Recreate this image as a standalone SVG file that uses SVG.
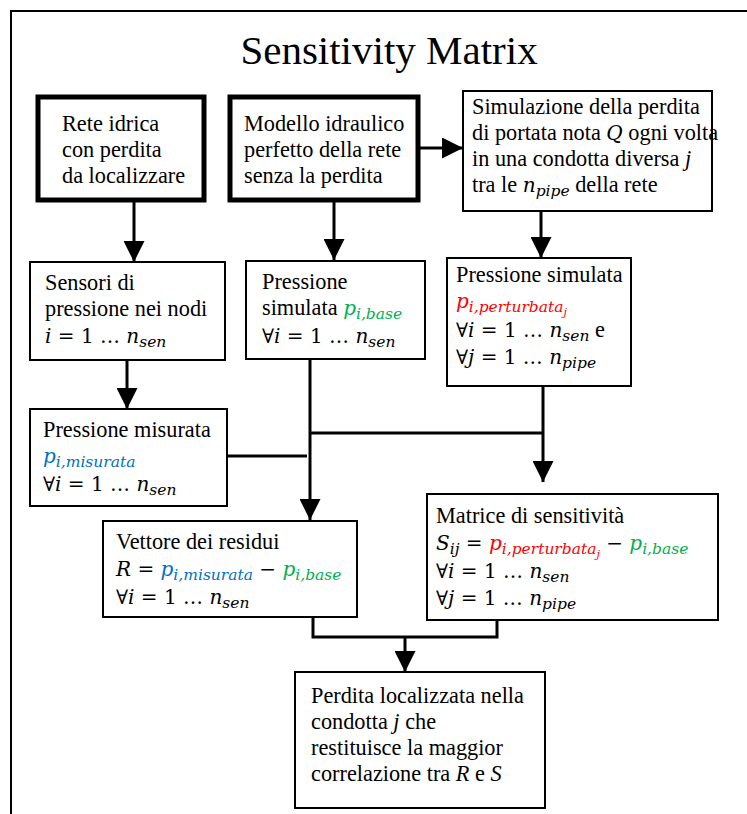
<svg xmlns="http://www.w3.org/2000/svg" width="747" height="814" viewBox="0 0 747 814">
<style>
.frame{fill:none;stroke:#000;stroke-width:2}
.box{fill:#fff;stroke:#000;stroke-width:2}
.thick{fill:#fff;stroke:#000;stroke-width:5}
.t{font-family:"Liberation Serif","Times New Roman",serif;font-size:22.3px;fill:#000}
.m{font-family:"DejaVu Serif",serif;font-size:20px}
.mi{font-style:italic}
.sub{font-size:15.5px}
.ss{font-size:11px}
.ln{fill:none;stroke:#000;stroke-width:3}
.g{fill:#00B050}
.b{fill:#0070C0}
.r{fill:#FF0000}
</style>
<defs>
<marker id="ah" viewBox="0 0 10 10" refX="10" refY="5" markerWidth="7.5" markerHeight="7" markerUnits="strokeWidth" orient="auto">
<path d="M0,0 L10,5 L0,10 Z" fill="#000"/>
</marker>
</defs>
<rect width="747" height="814" fill="#fff"/>
<rect class="frame" x="11" y="11" width="800" height="860"/>
<text class="t" x="389" y="64" text-anchor="middle" style="font-size:41px">Sensitivity Matrix</text>

<g id="connectors">
<line class="ln" x1="134" y1="201" x2="134" y2="262" marker-end="url(#ah)"/>
<line class="ln" x1="334" y1="201" x2="334" y2="260" marker-end="url(#ah)"/>
<line class="ln" x1="419" y1="148" x2="463" y2="148" marker-end="url(#ah)"/>
<line class="ln" x1="541" y1="211" x2="541" y2="258" marker-end="url(#ah)"/>
<line class="ln" x1="127" y1="360" x2="127" y2="409" marker-end="url(#ah)"/>
<line class="ln" x1="310" y1="359" x2="310" y2="520" marker-end="url(#ah)"/>
<polyline class="ln" points="310,433 543,433"/>
<line class="ln" x1="543" y1="386" x2="543" y2="482" marker-end="url(#ah)"/>
<line class="ln" x1="227" y1="456" x2="307" y2="456"/>
<polyline class="ln" points="313,617 313,637 497,637 497,620"/>
<line class="ln" x1="405" y1="637" x2="405" y2="672" marker-end="url(#ah)"/>
</g>

<g id="n1">
<rect class="thick" x="38" y="97" width="166" height="103"/>
<text class="t" x="62" y="131">Rete idrica</text>
<text class="t" x="62" y="157">con perdita</text>
<text class="t" x="62" y="183">da localizzare</text>
</g>

<g id="n2">
<rect class="thick" x="230" y="97" width="188" height="103"/>
<text class="t" x="244" y="131">Modello idraulico</text>
<text class="t" x="244" y="157">perfetto della rete</text>
<text class="t" x="244" y="183">senza la perdita</text>
</g>

<g id="n3">
<rect class="box" x="463" y="91" width="249" height="120"/>
<text class="t" x="472" y="114">Simulazione della perdita</text>
<text class="t" x="472" y="140">di portata nota <tspan class="m mi">Q</tspan> ogni volta</text>
<text class="t" x="472" y="166">in una condotta diversa <tspan class="mi">j</tspan></text>
<text class="t" x="472" y="192">tra le <tspan class="m mi">n</tspan><tspan class="m mi sub" dy="4">pipe</tspan><tspan dy="-4"> della rete</tspan></text>
</g>

<g id="n4">
<rect class="box" x="30" y="262" width="195" height="98"/>
<text class="t" x="45" y="290">Sensori di</text>
<text class="t" x="45" y="316">pressione nei nodi</text>
<text class="t" x="45" y="343"><tspan class="m mi">i</tspan><tspan class="m"> = 1 … </tspan><tspan class="m mi">n</tspan><tspan class="m mi sub" dy="4">sen</tspan></text>
</g>

<g id="n5">
<rect class="box" x="246" y="261" width="179" height="98"/>
<text class="t" x="262" y="289">Pressione</text>
<text class="t" x="262" y="315">simulata <tspan class="m mi g">p</tspan><tspan class="m mi sub g" dy="4">i,base</tspan></text>
<text class="t" x="262" y="343"><tspan class="m">∀</tspan><tspan class="m mi">i</tspan><tspan class="m"> = 1 … </tspan><tspan class="m mi">n</tspan><tspan class="m mi sub" dy="4">sen</tspan></text>
</g>

<g id="n6">
<rect class="box" x="447" y="258" width="184" height="128"/>
<text class="t" x="456" y="282">Pressione simulata</text>
<text class="t" x="456" y="308"><tspan class="m mi r">p</tspan><tspan class="m mi sub r" dy="4">i,perturbata</tspan><tspan class="m mi ss r" dy="4">j</tspan></text>
<text class="t" x="456" y="337"><tspan class="m">∀</tspan><tspan class="m mi">i</tspan><tspan class="m"> = 1 … </tspan><tspan class="m mi">n</tspan><tspan class="m mi sub" dy="4">sen</tspan><tspan dy="-4"> e</tspan></text>
<text class="t" x="456" y="364"><tspan class="m">∀</tspan><tspan class="m mi">j</tspan><tspan class="m"> = 1 … </tspan><tspan class="m mi">n</tspan><tspan class="m mi sub" dy="4">pipe</tspan></text>
</g>

<g id="n7">
<rect class="box" x="30" y="409" width="197" height="97"/>
<text class="t" x="43" y="437">Pressione misurata</text>
<text class="t" x="43" y="463"><tspan class="m mi b">p</tspan><tspan class="m mi sub b" dy="4">i,misurata</tspan></text>
<text class="t" x="43" y="491"><tspan class="m">∀</tspan><tspan class="m mi">i</tspan><tspan class="m"> = 1 … </tspan><tspan class="m mi">n</tspan><tspan class="m mi sub" dy="4">sen</tspan></text>
</g>

<g id="n8">
<rect class="box" x="103" y="521" width="254" height="96"/>
<text class="t" x="116" y="549">Vettore dei residui</text>
<text class="t" x="116" y="576"><tspan class="m mi">R</tspan><tspan class="m"> = </tspan><tspan class="m mi b">p</tspan><tspan class="m mi sub b" dy="4">i,misurata</tspan><tspan class="m" dy="-4"> − </tspan><tspan class="m mi g">p</tspan><tspan class="m mi sub g" dy="4">i,base</tspan></text>
<text class="t" x="116" y="604"><tspan class="m">∀</tspan><tspan class="m mi">i</tspan><tspan class="m"> = 1 … </tspan><tspan class="m mi">n</tspan><tspan class="m mi sub" dy="4">sen</tspan></text>
</g>

<g id="n9">
<rect class="box" x="427" y="494" width="291" height="126"/>
<text class="t" x="436" y="523">Matrice di sensitività</text>
<text class="t" x="436" y="550"><tspan class="m mi">S</tspan><tspan class="m mi sub" dy="4">ij</tspan><tspan class="m" dy="-4"> = </tspan><tspan class="m mi r">p</tspan><tspan class="m mi sub r" dy="4">i,perturbata</tspan><tspan class="m mi ss r" dy="4">j</tspan><tspan class="m" dy="-8"> − </tspan><tspan class="m mi g">p</tspan><tspan class="m mi sub g" dy="4">i,base</tspan></text>
<text class="t" x="436" y="578"><tspan class="m">∀</tspan><tspan class="m mi">i</tspan><tspan class="m"> = 1 … </tspan><tspan class="m mi">n</tspan><tspan class="m mi sub" dy="4">sen</tspan></text>
<text class="t" x="436" y="605"><tspan class="m">∀</tspan><tspan class="m mi">j</tspan><tspan class="m"> = 1 … </tspan><tspan class="m mi">n</tspan><tspan class="m mi sub" dy="4">pipe</tspan></text>
</g>

<g id="n10">
<rect class="box" x="295" y="672" width="250" height="136"/>
<text class="t" x="311" y="703">Perdita localizzata nella</text>
<text class="t" x="311" y="729">condotta <tspan class="mi">j</tspan> che</text>
<text class="t" x="311" y="755">restituisce la maggior</text>
<text class="t" x="311" y="781">correlazione tra <tspan class="mi">R</tspan> e <tspan class="mi">S</tspan></text>
</g>
</svg>
